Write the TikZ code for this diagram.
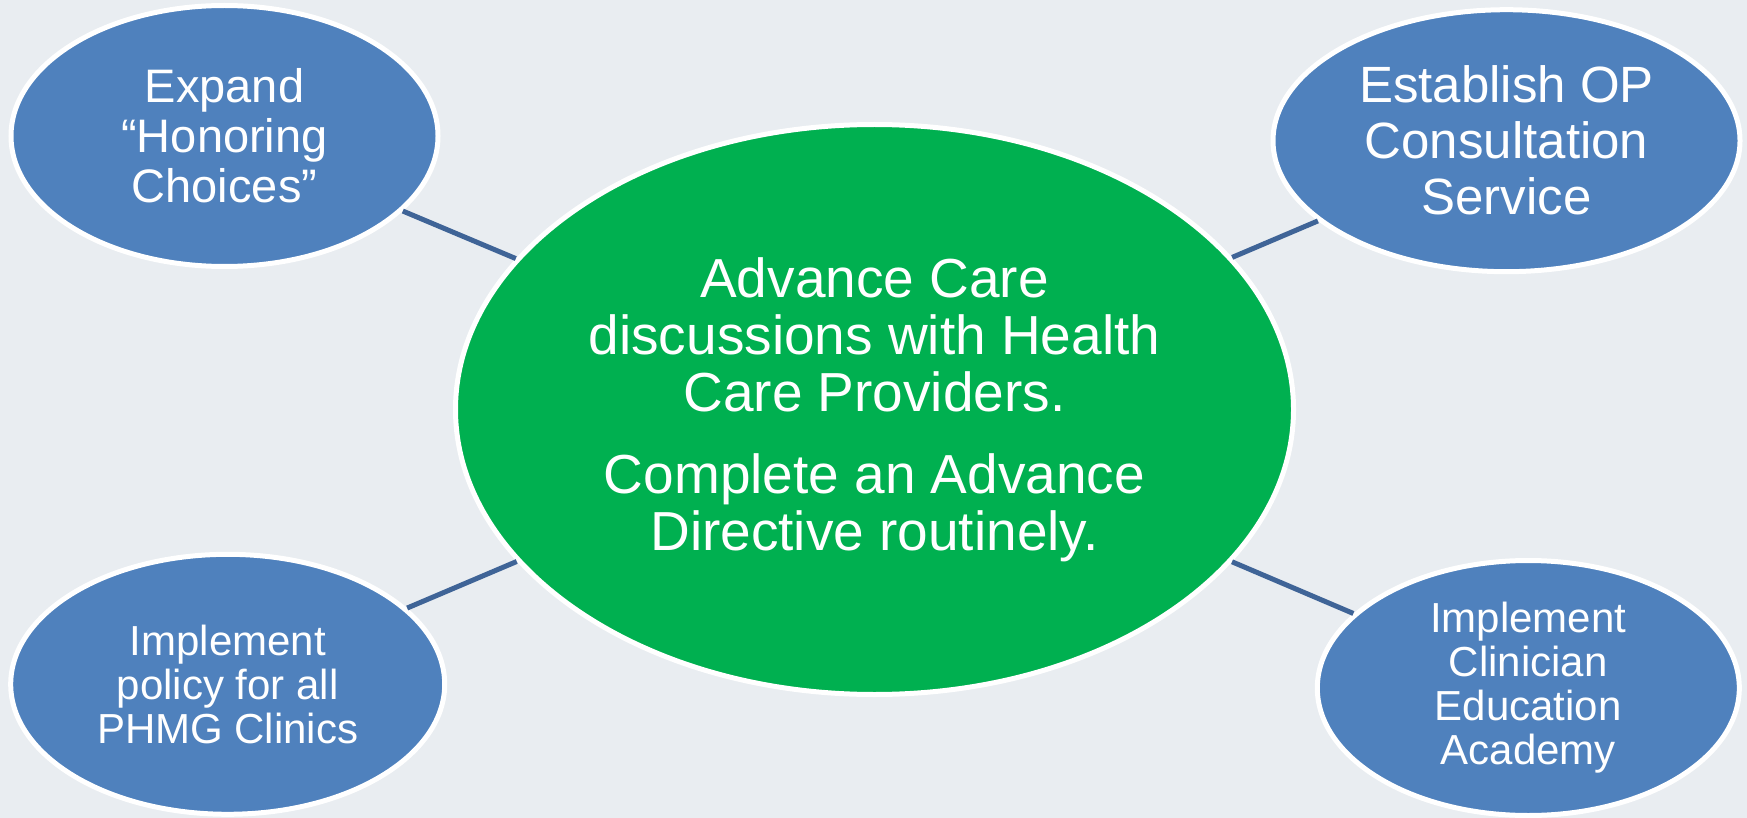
\documentclass[tikz,border=0pt]{standalone}
\usepackage{fontspec}
\setmainfont{Liberation Sans}
\usetikzlibrary{shapes.geometric}
\definecolor{bgc}{HTML}{E9EDF1}
\definecolor{bluefill}{HTML}{4F81BD}
\definecolor{greenfill}{HTML}{00B050}
\definecolor{linec}{HTML}{3F6497}
\tikzset{
  bubble/.style={ellipse, fill=bluefill, draw=white, line width=5pt, inner sep=0pt, text=white, align=center},
  hub/.style={ellipse, fill=greenfill, draw=white, line width=5pt, inner sep=0pt, text=white, align=center},
  link/.style={draw=linec, line width=5pt}
}
\begin{document}
\begin{tikzpicture}[x=1pt,y=-1pt]
\useasboundingbox (0,0) rectangle (1747,818);
\fill[bgc] (0,0) rectangle (1747,818);
\node[hub, minimum width=838pt, minimum height=570pt, font=\fontsize{55}{57}\selectfont] (c) at (874.5,409.5)
  {Advance Care\\discussions with Health\\Care Providers.\\[25pt]Complete an Advance\\Directive routinely.};
\node[bubble, minimum width=427pt, minimum height=261pt, font=\fontsize{47}{50}\selectfont] (tl) at (224.5,136)
  {Expand\\“Honoring\\Choices”};
\node[bubble, minimum width=467pt, minimum height=262pt, font=\fontsize{51}{56}\selectfont] (tr) at (1506.5,140.7)
  {Establish OP\\Consultation\\Service};
\node[bubble, minimum width=434pt, minimum height=260pt, font=\fontsize{42}{44}\selectfont] (bl) at (227.7,684.3)
  {Implement\\policy for all\\PHMG Clinics};
\node[bubble, minimum width=422pt, minimum height=255pt, font=\fontsize{42}{44}\selectfont] (br) at (1528.3,688)
  {Implement\\Clinician\\Education\\Academy};
\draw[link] (tl) -- (c);
\draw[link] (tr) -- (c);
\draw[link] (bl) -- (c);
\draw[link] (br) -- (c);
\end{tikzpicture}
\end{document}
